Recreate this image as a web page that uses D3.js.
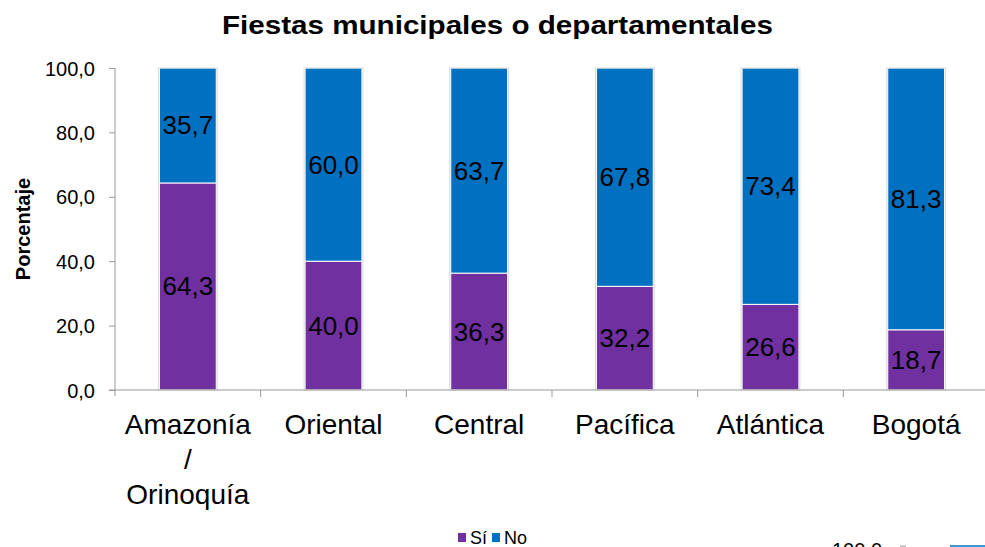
<!DOCTYPE html>
<html>
<head>
<meta charset="utf-8">
<script src="https://cdn.jsdelivr.net/npm/d3@7"></script>
<style>
  body { margin: 0; background: #fff; }
  svg { font-family: "Liberation Sans", Arial, sans-serif; }
</style>
</head>
<body>
<div id="chart"></div>
<script>
const regions = ["Amazonía / Orinoquía", "Oriental", "Central", "Pacífica", "Atlántica", "Bogotá"];
const si = [64.3, 40.0, 36.3, 32.2, 26.6, 18.7];
const no = [35.7, 60.0, 63.7, 67.8, 73.4, 81.3];
const yTicks = [0, 20, 40, 60, 80, 100];
const seriesNames = ["Sí", "No"];
const colors = ["#7030A0", "#0070C0"];

const width = 985, height = 547;
const margin = { top: 68, right: -4, bottom: 157, left: 115 };

const svg = d3.select("#chart").append("svg")
    .attr("width", width)
    .attr("height", height);

const data = regions.map((r, i) => ({ region: r, "Sí": si[i], "No": no[i] }));
const stack = d3.stack().keys(seriesNames)(data);

const x = d3.scaleBand()
    .domain(regions)
    .range([margin.left, width - margin.right])
    .paddingInner(0.61)
    .paddingOuter(0.305);

const y = d3.scaleLinear()
    .domain([0, 100])
    .range([height - margin.bottom, margin.top]);

const fmt = v => d3.format(".1f")(v).replace(".", ",");

// title
svg.append("text")
    .attr("x", 222)
    .attr("y", 34)
    .attr("textLength", 551)
    .attr("lengthAdjust", "spacingAndGlyphs")
    .style("font-size", "26px")
    .style("font-weight", "bold")
    .text("Fiestas municipales o departamentales");

// bars
const groups = svg.selectAll("g.series")
    .data(stack)
    .join("g")
    .attr("class", "series")
    .attr("fill", (d, i) => colors[i]);

groups.selectAll("rect")
    .data(d => d)
    .join("rect")
    .attr("x", d => x(d.data.region))
    .attr("y", d => y(d[1]))
    .attr("width", x.bandwidth())
    .attr("height", d => y(d[0]) - y(d[1]))
    .attr("stroke", "#fff")
    .attr("stroke-width", 1);

// bar shadow edges
svg.append("g").selectAll("rect")
    .data(data)
    .join("rect")
    .attr("x", d => x(d.region) - 1)
    .attr("y", y(100))
    .attr("width", x.bandwidth() + 2)
    .attr("height", y(0) - y(100))
    .attr("fill", "none")
    .attr("stroke", "#d9d9d9")
    .attr("stroke-width", 1);

// value labels
groups.selectAll("text")
    .data(d => d)
    .join("text")
    .attr("x", d => x(d.data.region) + x.bandwidth() / 2)
    .attr("y", d => (y(d[0]) + y(d[1])) / 2 + 9)
    .attr("text-anchor", "middle")
    .attr("fill", "#000")
    .style("font-size", "26px")
    .text(d => fmt(d[1] - d[0]));

// y axis
const yAxis = svg.append("g")
    .attr("transform", `translate(${margin.left},0)`)
    .call(d3.axisLeft(y).tickValues(yTicks).tickFormat(fmt).tickSize(6).tickPadding(14));
yAxis.selectAll("text").style("font-size", "20px").attr("fill", "#000").attr("dy", "0.35em");
yAxis.selectAll("line").attr("stroke", "#999");
yAxis.select(".domain").attr("stroke", "#999").attr("d", `M0,${y(100)}V${y(0) + 6}`);

// x axis
const xAxis = svg.append("g")
    .attr("transform", `translate(0,${y(0)})`);
xAxis.append("line")
    .attr("x1", margin.left - 6)
    .attr("x2", width)
    .attr("stroke", "#999");
xAxis.selectAll("line.tick")
    .data(regions.slice(1))
    .join("line")
    .attr("class", "tick")
    .attr("x1", d => x(d) - x.step() * x.paddingInner() / 2)
    .attr("x2", d => x(d) - x.step() * x.paddingInner() / 2)
    .attr("y2", 7)
    .attr("stroke", "#999");

const catLabels = svg.append("g").selectAll("text")
    .data(regions)
    .join("text")
    .attr("x", d => x(d) + x.bandwidth() / 2)
    .attr("y", 434)
    .attr("text-anchor", "middle")
    .style("font-size", "28px");
catLabels.each(function(d) {
    const parts = d.split(" ");
    const t = d3.select(this);
    parts.forEach((p, i) => {
        t.append("tspan")
            .attr("x", x(d) + x.bandwidth() / 2)
            .attr("dy", i === 0 ? 0 : 35)
            .text(p);
    });
});

// y axis title
svg.append("text")
    .attr("transform", `translate(30,${y(50)}) rotate(-90)`)
    .attr("text-anchor", "middle")
    .style("font-size", "20px")
    .style("font-weight", "bold")
    .text("Porcentaje");

// legend
const legend = svg.append("g").attr("transform", "translate(0,544)");
const legendX = [458, 492];
seriesNames.forEach((s, i) => {
    legend.append("rect")
        .attr("x", legendX[i])
        .attr("y", -11)
        .attr("width", 8)
        .attr("height", 9)
        .attr("fill", colors[i]);
    legend.append("text")
        .attr("x", legendX[i] + 12)
        .attr("y", 0)
        .style("font-size", "18px")
        .text(s);
});

// fragment of the next chart, cut at the bottom edge
svg.append("text")
    .attr("x", 832)
    .attr("y", 557)
    .style("font-size", "20px")
    .text(fmt(100));
svg.append("line")
    .attr("x1", 900).attr("x2", 906)
    .attr("y1", 546).attr("y2", 546)
    .attr("stroke", "#999");
svg.append("rect")
    .attr("x", 950).attr("y", 545)
    .attr("width", 35).attr("height", 3)
    .attr("fill", "#3e97d1");
</script>
</body>
</html>
